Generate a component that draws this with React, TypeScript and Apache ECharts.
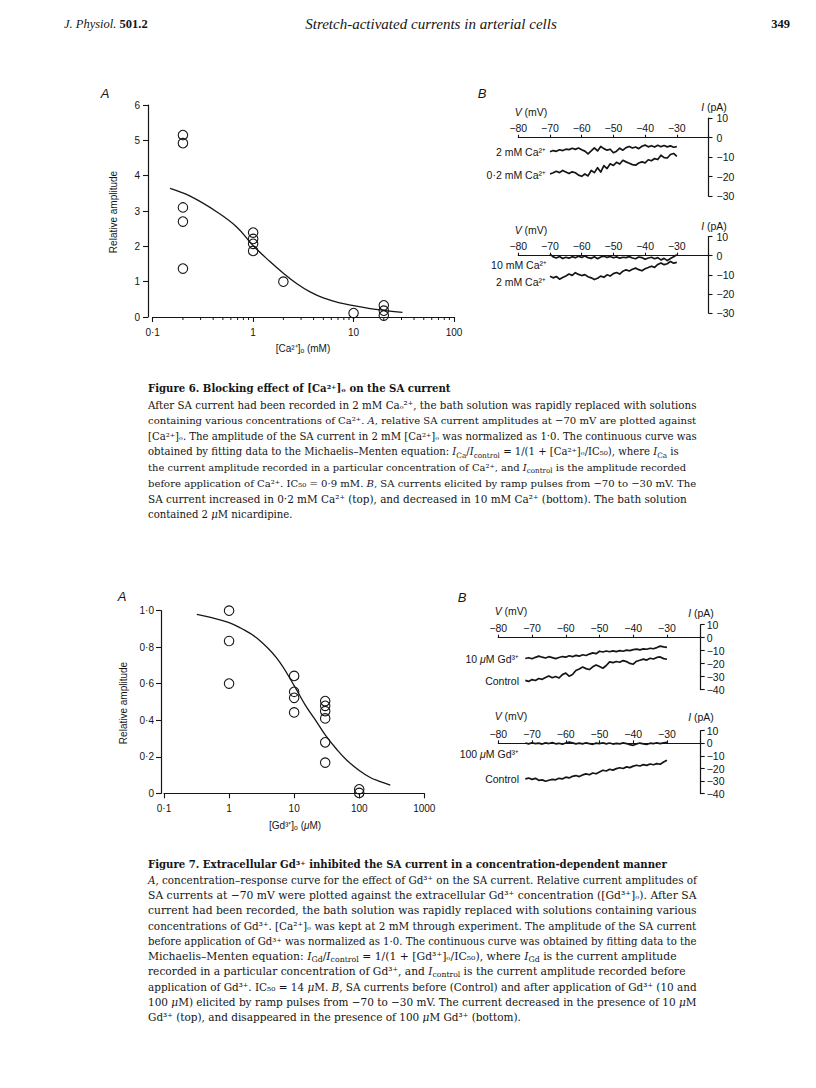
import React, { useEffect, useRef } from 'react';
import * as echarts from 'echarts';

const INK = '#151515';
const SANS = '"Liberation Sans", Arial, Helvetica, sans-serif';
const SERIF = '"DejaVu Serif", "Liberation Serif", serif';
const HSERIF = '"Liberation Serif", "Times New Roman", serif';

// ---------- Figure 6A: relative amplitude vs [Ca2+]o (mM) ----------
const ca6Conc = [0.2, 0.2, 0.2, 0.2, 0.2, 1, 1, 1, 1, 2, 10, 20, 20, 20];
const ca6Amp = [5.15, 4.92, 3.1, 2.7, 1.37, 2.39, 2.21, 2.07, 1.87, 1.0, 0.11, 0.33, 0.18, 0.04];
const ca6FitConc = [0.149, 0.236, 0.433, 0.686, 1, 1.47, 2, 2.73, 3.69, 5, 7.3, 10, 14.6, 19.8, 30.7];
const ca6FitAmp = [3.64, 3.42, 2.98, 2.55, 2.02, 1.57, 1.24, 0.94, 0.71, 0.54, 0.4, 0.32, 0.24, 0.19, 0.13];
const ca6XLabels = ['0·1', '1', '10', '100'];
const ca6YLabels = ['0', '1', '2', '3', '4', '5', '6'];
const ca6MinorTicks = [0.2, 0.3, 0.4, 0.5, 0.6, 0.7, 0.8, 0.9, 2, 3, 4, 5, 6, 7, 8, 9, 20, 30, 40, 50, 60, 70, 80, 90];

// ---------- Figure 6B: ramp currents (mV, pA) ----------
const rampV6 = [-70, -69, -68, -67, -66, -65, -64, -63, -62, -61, -60, -59, -58, -57, -56, -55, -54, -53, -52, -51, -50, -49, -48, -47, -46, -45, -44, -43, -42, -41, -40, -39, -38, -37, -36, -35, -34, -33, -32, -31, -30];
const i6TopCa2 = [-7.2, -6.6, -7.0, -6.2, -6.6, -5.9, -6.1, -5.4, -6.0, -5.3, -6.2, -6.9, -8.3, -6.8, -5.2, -6.8, -4.5, -5.6, -6.4, -5.9, -7.7, -6.9, -5.4, -6.4, -5.1, -4.5, -5.3, -4.8, -5.6, -4.4, -3.8, -4.7, -4.1, -4.8, -3.9, -4.6, -4.0, -4.7, -4.2, -4.9, -4.6];
const i6TopCa02 = [-18.6, -18.0, -17.2, -17.9, -16.8, -17.6, -18.4, -17.5, -18.0, -19.2, -19.8, -18.6, -19.6, -16.8, -17.9, -15.4, -17.6, -14.3, -15.8, -13.4, -14.2, -12.6, -13.5, -11.6, -12.4, -13.1, -13.8, -14.1, -13.0, -12.4, -12.9, -11.3, -11.8, -10.7, -11.2, -9.0, -10.2, -10.4, -8.6, -8.1, -9.6];
const i6BotCa10 = [0.8, -0.6, -1.2, -0.4, -1.5, -0.8, -1.3, -0.5, -1.1, -0.3, -0.9, -0.2, -1.0, -1.4, -0.6, -1.6, -0.7, -0.2, -0.9, -0.4, -1.1, -0.6, -1.3, -0.8, -1.0, -0.5, -1.2, -1.6, -0.7, -1.0, -1.9, -1.2, -0.8, -1.6, -1.0, -2.2, -1.4, -2.6, -1.5, -0.6, 0.5];
const i6BotCa2 = [-10.8, -11.6, -10.9, -12.3, -11.4, -10.6, -9.6, -10.3, -8.9, -9.8, -10.4, -9.9, -11.0, -11.6, -12.5, -11.8, -10.7, -11.3, -10.0, -10.6, -9.4, -8.8, -9.6, -8.1, -7.4, -8.0, -7.1, -6.5, -7.3, -7.9, -6.8, -6.2, -5.5, -6.1, -4.6, -3.8, -4.7, -4.2, -3.0, -3.9, -3.5];
const vTickLabels = ['−80', '−70', '−60', '−50', '−40', '−30', ''];
const iTickLabels6 = ['−30', '−20', '−10', '0', '10'];

// ---------- Figure 7A: relative amplitude vs [Gd3+]o (uM) ----------
const gd7Conc = [1, 1, 1, 10, 10, 10, 10, 30, 30, 30, 30, 30, 30, 100, 100];
const gd7Amp = [1.0, 0.834, 0.601, 0.643, 0.556, 0.523, 0.443, 0.505, 0.479, 0.45, 0.41, 0.279, 0.168, 0.022, 0.002];
const gd7FitConc = [0.32, 0.5, 1, 1.5, 2.67, 5.4, 10, 15, 22.3, 30, 45.3, 65, 100, 150, 200, 300];
const gd7FitAmp = [0.98, 0.965, 0.935, 0.905, 0.85, 0.74, 0.59, 0.48, 0.39, 0.32, 0.24, 0.18, 0.125, 0.085, 0.067, 0.045];
const gd7XLabels = ['0·1', '1', '10', '100', '1000'];
const gd7YLabels = ['0', '0·2', '0·4', '0·6', '0·8', '1·0'];

// ---------- Figure 7B: ramp currents (mV, pA) ----------
const rampV7 = [-72, -71, -70, -69, -68, -67, -66, -65, -64, -63, -62, -61, -60, -59, -58, -57, -56, -55, -54, -53, -52, -51, -50, -49, -48, -47, -46, -45, -44, -43, -42, -41, -40, -39, -38, -37, -36, -35, -34, -33, -32, -31, -30];
const i7TopGd10 = [-16.0, -15.4, -16.2, -15.1, -14.2, -15.0, -15.6, -14.6, -15.3, -16.1, -15.2, -14.5, -15.0, -13.9, -14.6, -13.6, -14.2, -13.1, -13.7, -12.6, -11.7, -12.3, -10.4, -11.0, -10.2, -10.8, -10.1, -10.7, -9.9, -10.4, -9.6, -9.9, -9.2, -8.8, -9.4, -8.6, -8.9, -8.1, -8.5, -7.6, -6.5, -7.1, -7.5];
const i7TopCtrl = [-32.8, -33.6, -32.2, -32.9, -31.4, -32.0, -30.6, -29.4, -30.8, -29.9, -31.0, -28.4, -27.2, -29.6, -28.3, -25.2, -24.1, -22.6, -23.8, -24.5, -22.4, -21.0, -22.2, -23.5, -21.4, -18.6, -19.2, -18.3, -18.9, -17.6, -18.4, -19.8, -20.4, -18.1, -17.3, -16.5, -17.2, -15.8, -16.4, -15.2, -14.8, -16.1, -16.6];
const i7BotGd100 = [0.2, -0.5, 0.4, -0.3, 0.1, -0.6, 0.3, -0.2, 0.5, -0.4, 0.0, -0.7, 0.2, 0.9, 0.3, -0.4, 0.1, -0.5, 0.4, -0.2, -0.8, 0.1, -0.3, 0.4, -0.5, 0.2, -0.6, 0.0, -0.4, 0.3, -0.2, -1.1, -1.6, -0.5, 0.2, -0.4, -0.9, 0.1, -0.3, 0.4, -0.2, 0.3, 0.8];
const i7BotCtrl = [-28.2, -27.6, -28.6, -27.8, -29.4, -29.0, -30.1, -29.3, -28.6, -29.0, -27.8, -28.3, -26.9, -27.5, -26.2, -25.6, -26.4, -25.1, -24.3, -25.0, -23.6, -24.2, -22.8, -21.4, -22.0, -20.6, -21.3, -20.1, -19.4, -20.0, -18.7, -19.3, -18.1, -17.4, -18.0, -16.9, -17.5, -16.4, -17.0, -16.1, -16.6, -14.9, -13.4];
const iTickLabels7 = ['−40', '−30', '−20', '−10', '0', '10'];

// ---------- Texts ----------
const headerJournal = '{i|J. Physiol.} {b|501.2}';
const headerTitle = 'Stretch-activated currents in arterial cells';
const headerPage = '349';
const cap6Title = 'Figure 6. Blocking effect of [Ca²⁺]ₒ on the SA current';
const cap6Lines = [
  'After SA current had been recorded in 2 mM Caₒ²⁺, the bath solution was rapidly replaced with solutions',
  'containing various concentrations of Ca²⁺. {i|A}, relative SA current amplitudes at −70 mV are plotted against',
  '[Ca²⁺]ₒ. The amplitude of the SA current in 2 mM [Ca²⁺]ₒ was normalized as 1·0. The continuous curve was',
  'obtained by fitting data to the Michaelis–Menten equation: {i|I}{sub|Ca}/{i|I}{sub|control} = 1/(1 + [Ca²⁺]ₒ/IC₅₀), where {i|I}{sub|Ca} is',
  'the current amplitude recorded in a particular concentration of Ca²⁺, and {i|I}{sub|control} is the amplitude recorded',
  'before application of Ca²⁺. IC₅₀ = 0·9 mM. {i|B}, SA currents elicited by ramp pulses from −70 to −30 mV. The',
  'SA current increased in 0·2 mM Ca²⁺ (top), and decreased in 10 mM Ca²⁺ (bottom). The bath solution',
  'contained 2 {i|μ}M nicardipine.',
];
const cap7Title = 'Figure 7. Extracellular Gd³⁺ inhibited the SA current in a concentration-dependent manner';
const cap7Lines = [
  '{i|A}, concentration–response curve for the effect of Gd³⁺ on the SA current. Relative current amplitudes of',
  'SA currents at −70 mV were plotted against the extracellular Gd³⁺ concentration ([Gd³⁺]ₒ). After SA',
  'current had been recorded, the bath solution was rapidly replaced with solutions containing various',
  'concentrations of Gd³⁺. [Ca²⁺]ₒ was kept at 2 mM through experiment. The amplitude of the SA current',
  'before application of Gd³⁺ was normalized as 1·0. The continuous curve was obtained by fitting data to the',
  'Michaelis–Menten equation: {i|I}{sub|Gd}/{i|I}{sub|control} = 1/(1 + [Gd³⁺]ₒ/IC₅₀), where {i|I}{sub|Gd} is the current amplitude',
  'recorded in a particular concentration of Gd³⁺, and {i|I}{sub|control} is the current amplitude recorded before',
  'application of Gd³⁺. IC₅₀ = 14 {i|μ}M. {i|B}, SA currents before (Control) and after application of Gd³⁺ (10 and',
  '100 {i|μ}M) elicited by ramp pulses from −70 to −30 mV. The current decreased in the presence of 10 {i|μ}M',
  'Gd³⁺ (top), and disappeared in the presence of 100 {i|μ}M Gd³⁺ (bottom).',
];

const zip = (xs: number[], ys: number[]) => xs.map((x, k) => [x, ys[k]]);
const plain = (s: string) => s.replace(/\{\w+\|([^}]*)\}/g, '$1');

let measureCtx: CanvasRenderingContext2D | null = null;
function textWidth(text: string, family: string, weight: string, style: string) {
  try {
    if (!measureCtx) measureCtx = document.createElement('canvas').getContext('2d');
    if (!measureCtx) return 0;
    measureCtx.font = `${style} ${weight} 100px ${family}`;
    return measureCtx.measureText(text).width;
  } catch (e) {
    return 0;
  }
}
// font size such that a plain string spans a target width
function fitSize(text: string, family: string, weight: string, style: string, target: number, fallback: number) {
  const w = textWidth(plain(text), family, weight, style);
  return w > 0 ? (100 * target) / w : fallback;
}

function richFor(ff: string, fs: number, fw: string) {
  const base = { fontFamily: ff, fontWeight: fw, fill: INK };
  const small = Math.round(fs * 0.72 * 10) / 10;
  return {
    i: { ...base, fontSize: fs, fontStyle: 'italic' },
    b: { ...base, fontSize: fs, fontWeight: 'bold', fontStyle: 'normal' },
    sub: { ...base, fontSize: small, fontStyle: 'normal', verticalAlign: 'bottom' },
    sup: { ...base, fontSize: small, fontStyle: 'normal', verticalAlign: 'top' },
  };
}

type TOpt = { ff?: string; fs?: number; fw?: string; fst?: string; align?: string; rot?: number; lh?: number };
function txt(x: number, y: number, text: string, o: TOpt = {}) {
  const ff = o.ff ?? SERIF;
  const fs = o.fs ?? 11.5;
  const fw = o.fw ?? 'normal';
  return {
    type: 'text',
    x,
    y,
    rotation: o.rot ?? 0,
    silent: true,
    z: 20,
    style: {
      text,
      fontFamily: ff,
      fontSize: fs,
      fontWeight: fw,
      fontStyle: o.fst ?? 'normal',
      fill: INK,
      lineHeight: o.lh ?? Math.round(fs * 1.3),
      textAlign: o.align ?? 'left',
      textVerticalAlign: 'middle',
      rich: richFor(ff, fs, fw),
    },
  };
}

const axLine = { lineStyle: { color: INK, width: 1.2 } };
const tickStyle = { color: INK, width: 1.1 };

function logXAxis(gridIndex: number, min: number, max: number, labels: string[]) {
  return {
    type: 'log', logBase: 10, gridIndex, min, max, position: 'bottom',
    axisLine: { show: true, onZero: false, ...axLine },
    axisTick: { show: true, inside: false, length: 5, lineStyle: tickStyle },
    axisLabel: { show: true, interval: 0, margin: 10, color: INK, fontFamily: SANS, fontSize: 10, formatter: (_v: number, i: number) => labels[i] ?? '' },
    splitLine: { show: false }, minorTick: { show: false }, minorSplitLine: { show: false },
  };
}
function ampYAxis(gridIndex: number, max: number, interval: number, labels: string[], offset: number, margin: number) {
  return {
    type: 'value', gridIndex, min: 0, max, interval, offset, position: 'left',
    axisLine: { show: true, onZero: false, ...axLine },
    axisTick: { show: true, inside: false, length: 5, lineStyle: tickStyle },
    axisLabel: { show: true, margin, color: INK, fontFamily: SANS, fontSize: 10, formatter: (_v: number, i: number) => labels[i] ?? '' },
    splitLine: { show: false },
  };
}
// voltage axis drawn through I = 0: shifted down from the grid top by the 0..10 pA span
function vXAxis(gridIndex: number, zeroOffset: number) {
  return {
    type: 'value', gridIndex, min: -80, max: -20, interval: 10, position: 'top', offset: -zeroOffset,
    axisLine: { show: true, onZero: false, ...axLine },
    axisTick: { show: true, inside: false, length: 3, lineStyle: tickStyle },
    axisLabel: { show: true, margin: 4, color: INK, fontFamily: SANS, fontSize: 10.5, formatter: (_v: number, i: number) => vTickLabels[i] ?? '' },
    splitLine: { show: false },
  };
}
function iYAxis(gridIndex: number, min: number, labels: string[], margin: number) {
  return {
    type: 'value', gridIndex, min, max: 10, interval: 10, position: 'right',
    axisLine: { show: true, onZero: false, ...axLine },
    axisTick: { show: true, inside: false, length: 4, lineStyle: tickStyle },
    axisLabel: { show: true, margin, align: 'left', color: INK, fontFamily: SANS, fontSize: 10.5, formatter: (_v: number, i: number) => labels[i] ?? '' },
    splitLine: { show: false },
  };
}

const scatterSeries = (ax: number, xs: number[], ys: number[]) => ({
  type: 'scatter', xAxisIndex: ax, yAxisIndex: ax, data: zip(xs, ys), symbol: 'circle', symbolSize: 9.5, clip: false, z: 5,
  itemStyle: { color: 'rgba(255,255,255,0)', borderColor: INK, borderWidth: 1.1, opacity: 1 },
});
const fitSeries = (ax: number, xs: number[], ys: number[]) => ({
  type: 'line', xAxisIndex: ax, yAxisIndex: ax, data: zip(xs, ys), showSymbol: false, symbol: 'none', smooth: 0.4, clip: false, z: 4,
  lineStyle: { color: INK, width: 1.3 },
});
const traceSeries = (ax: number, vs: number[], is: number[]) => ({
  type: 'line', xAxisIndex: ax, yAxisIndex: ax, data: zip(vs, is), showSymbol: false, symbol: 'none', smooth: false, clip: false, z: 4,
  lineStyle: { color: INK, width: 1.7, join: 'round' },
});
const minorTickSeries = (ax: number, vals: number[]) => ({
  type: 'custom', xAxisIndex: ax, yAxisIndex: ax, clip: false, silent: true, z: 3,
  data: vals.map((v) => [v, 0]),
  encode: { x: 0, y: 1 },
  renderItem: (_p: any, api: any) => {
    const p = api.coord([api.value(0), api.value(1)]);
    return { type: 'line', shape: { x1: p[0], y1: p[1], x2: p[0], y2: p[1] + 3 }, style: { stroke: INK, lineWidth: 1 } };
  },
});

const gridBoxes = [
  { left: 152.7, top: 105, width: 301.3, height: 212 },
  { left: 518.3, top: 118.2, width: 190.2, height: 78 },
  { left: 518.3, top: 236.6, width: 190.2, height: 76.4 },
  { left: 164, top: 610.7, width: 260.3, height: 182.6 },
  { left: 498.3, top: 624.7, width: 202.4, height: 65 },
  { left: 498.3, top: 730.7, width: 202.4, height: 63 },
];
const grids = gridBoxes.map((g) => ({ ...g, containLabel: false, outerBoundsMode: 'none', show: false }));

// justified-looking caption paragraph: each full line sized to span the text block
function paragraph(els: any[], lines: string[], x: number, y0: number, step: number, width: number) {
  const fits = lines.map((l) => fitSize(l, SERIF, 'normal', 'normal', width, 10.4));
  const sorted = fits.slice(0, -1).sort((a, b) => a - b);
  const base = sorted[Math.floor(sorted.length / 2)] || 10.4;
  lines.forEach((l, k) => {
    const last = k === lines.length - 1;
    const fs = last ? base : Math.min(Math.max(fits[k], base * 0.965), base * 1.035);
    els.push(txt(x, y0 + k * step, l, { fs, lh: 14 }));
  });
  return base;
}

function buildGraphics() {
  const els: any[] = [];
  // page header
  const hTitleFs = fitSize(headerTitle, HSERIF, 'normal', 'italic', 252, 14.5);
  els.push(txt(64, 24, headerJournal, { ff: HSERIF, fs: 12.5 }));
  els.push(txt(431, 24, headerTitle, { ff: HSERIF, fs: hTitleFs, fst: 'italic', align: 'center' }));
  els.push(txt(790, 24, headerPage, { ff: HSERIF, fs: 12.5, fw: 'bold', align: 'right' }));

  // panel letters
  els.push(txt(105, 93, 'A', { ff: SANS, fs: 13, fst: 'italic', align: 'center' }));
  els.push(txt(482, 93, 'B', { ff: SANS, fs: 13, fst: 'italic', align: 'center' }));
  els.push(txt(122, 596, 'A', { ff: SANS, fs: 13, fst: 'italic', align: 'center' }));
  els.push(txt(462, 597, 'B', { ff: SANS, fs: 13, fst: 'italic', align: 'center' }));

  // Fig 6A / 7A axis names
  els.push(txt(113, 212, 'Relative amplitude', { ff: SANS, fs: 10, align: 'center', rot: Math.PI / 2 }));
  els.push(txt(303, 348, '[Ca²⁺]ₒ (mM)', { ff: SANS, fs: 10, align: 'center' }));
  els.push(txt(123, 703, 'Relative amplitude', { ff: SANS, fs: 10, align: 'center', rot: Math.PI / 2 }));
  els.push(txt(295, 825, '[Gd³⁺]ₒ ({i|μ}M)', { ff: SANS, fs: 10, align: 'center' }));

  // Fig 6B labels
  const sb = { ff: SANS, fs: 10.5 };
  els.push(txt(531, 112, '{i|V} (mV)', { ...sb, align: 'center' }));
  els.push(txt(714, 107, '{i|I} (pA)', { ...sb, align: 'center' }));
  els.push(txt(546, 152, '2 mM Ca²⁺', { ...sb, align: 'right' }));
  els.push(txt(546, 175, '0·2 mM Ca²⁺', { ...sb, align: 'right' }));
  els.push(txt(531, 230, '{i|V} (mV)', { ...sb, align: 'center' }));
  els.push(txt(714, 226, '{i|I} (pA)', { ...sb, align: 'center' }));
  els.push(txt(547, 265, '10 mM Ca²⁺', { ...sb, align: 'right' }));
  els.push(txt(546, 282, '2 mM Ca²⁺', { ...sb, align: 'right' }));
  // Fig 7B labels
  els.push(txt(511, 611, '{i|V} (mV)', { ...sb, align: 'center' }));
  els.push(txt(701, 613, '{i|I} (pA)', { ...sb, align: 'center' }));
  els.push(txt(519, 659, '10 {i|μ}M Gd³⁺', { ...sb, align: 'right' }));
  els.push(txt(519, 681, 'Control', { ...sb, align: 'right' }));
  els.push(txt(511, 716, '{i|V} (mV)', { ...sb, align: 'center' }));
  els.push(txt(701, 717, '{i|I} (pA)', { ...sb, align: 'center' }));
  els.push(txt(519, 754, '100 {i|μ}M Gd³⁺', { ...sb, align: 'right' }));
  els.push(txt(519, 779, 'Control', { ...sb, align: 'right' }));

  // captions (text block 148..697)
  const titleFs = fitSize(cap7Title, SERIF, 'bold', 'normal', 520, 10.4);
  els.push(txt(148, 388, cap6Title, { fs: titleFs, fw: 'bold', lh: 14 }));
  paragraph(els, cap6Lines, 148, 405, 15.6, 549);
  els.push(txt(148, 864, cap7Title, { fs: titleFs, fw: 'bold', lh: 14 }));
  paragraph(els, cap7Lines, 148, 880, 15.25, 549);
  return els;
}

function buildOption(): any {
  return {
    animation: false,
    backgroundColor: '#ffffff',
    grid: grids,
    xAxis: [
      logXAxis(0, 0.1, 100, ca6XLabels),
      vXAxis(1, gridBoxes[1].height / 4),
      vXAxis(2, gridBoxes[2].height / 4),
      logXAxis(3, 0.1, 1000, gd7XLabels),
      vXAxis(4, gridBoxes[4].height / 5),
      vXAxis(5, gridBoxes[5].height / 5),
    ],
    yAxis: [
      ampYAxis(0, 6, 1, ca6YLabels, 4.7, 8),
      iYAxis(1, -30, iTickLabels6, 8),
      iYAxis(2, -30, iTickLabels6, 8),
      ampYAxis(3, 1, 0.2, gd7YLabels, 3, 7),
      iYAxis(4, -40, iTickLabels7, 6),
      iYAxis(5, -40, iTickLabels7, 6),
    ],
    series: [
      fitSeries(0, ca6FitConc, ca6FitAmp),
      scatterSeries(0, ca6Conc, ca6Amp),
      minorTickSeries(0, ca6MinorTicks),
      traceSeries(1, rampV6, i6TopCa2),
      traceSeries(1, rampV6, i6TopCa02),
      traceSeries(2, rampV6, i6BotCa10),
      traceSeries(2, rampV6, i6BotCa2),
      fitSeries(3, gd7FitConc, gd7FitAmp),
      scatterSeries(3, gd7Conc, gd7Amp),
      traceSeries(4, rampV7, i7TopGd10),
      traceSeries(4, rampV7, i7TopCtrl),
      traceSeries(5, rampV7, i7BotGd100),
      traceSeries(5, rampV7, i7BotCtrl),
    ],
    graphic: { elements: buildGraphics() },
  };
}

export default function App() {
  const ref = useRef<HTMLDivElement>(null);
  useEffect(() => {
    if (!ref.current) return;
    const chart = echarts.init(ref.current, undefined, { renderer: 'svg' });
    chart.setOption(buildOption());
    return () => chart.dispose();
  }, []);
  return (
    <div
      ref={ref}
      style={{ position: 'absolute', left: 0, top: 0, width: 816, height: 1088, background: '#ffffff' }}
    />
  );
}
